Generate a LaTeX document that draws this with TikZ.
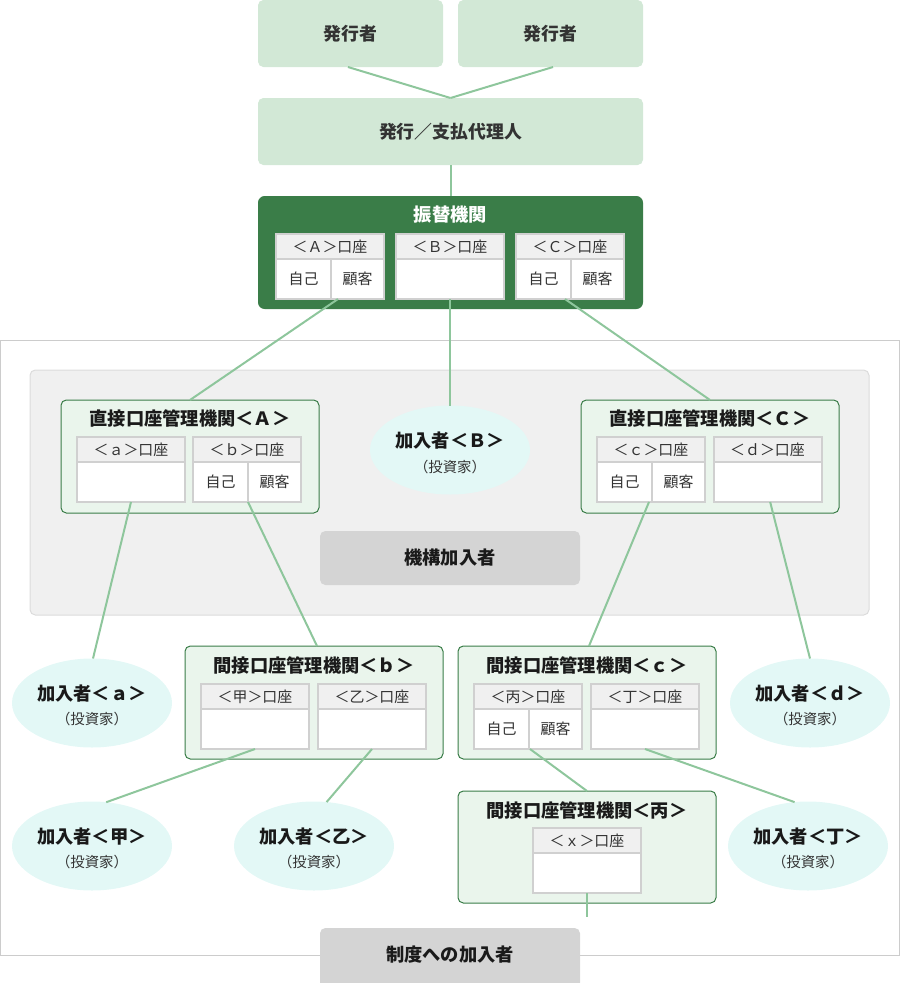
\documentclass[tikz,border=0pt]{standalone}
\usepackage{fontspec}
\setmainfont{Noto Sans CJK JP}
\usetikzlibrary{shapes.geometric,calc}
\definecolor{pale}{HTML}{D2E8D6}
\definecolor{dgreen}{HTML}{3A7D48}
\definecolor{subfill}{HTML}{EAF5EC}
\definecolor{linec}{HTML}{8EC69C}
\definecolor{graybox}{HTML}{D4D4D4}
\definecolor{ellf}{HTML}{E3F8F6}
\definecolor{accb}{HTML}{D0D0D0}
\definecolor{headf}{HTML}{F0F0F0}
\definecolor{outerb}{HTML}{CCCCCC}
\definecolor{areaf}{HTML}{F0F0F0}
\definecolor{areab}{HTML}{DCDCDC}
\definecolor{txt}{HTML}{1A1A1A}
\definecolor{acct}{HTML}{333333}
\newcommand\accbox[4]{%
  \node[acchead, sz={108}{25}] (#1h) at (#2, #3+12.5) {#4};
  \node[accbody, sz={108}{40}] (#1) at (#2, #3+45) {};
}
\newcommand\accsplit[4]{%
  \accbox{#1}{#2}{#3}{#4}
  \node[accbody, sz={55}{40}, acctext] (#1s) at (#2-26.5, #3+45) {自己};
  \node[accbody, sz={53}{40}, acctext] (#1k) at (#2+27.5, #3+45) {顧客};
}
\begin{document}
\begin{tikzpicture}[x=0.75pt,y=-0.75pt,
  sz/.style 2 args={minimum width=#1*0.75pt, minimum height=#2*0.75pt, inner sep=0pt, outer sep=0pt},
  palebox/.style={fill=pale, rounded corners=4pt},
  btext/.style={font=\fontsize{13.7pt}{15pt}\selectfont\bfseries, text=txt},
  ptext/.style={font=\fontsize{13.4pt}{15pt}\selectfont\bfseries, text=acct},
  acctext/.style={font=\fontsize{11.2pt}{13pt}\selectfont, text=acct},
  acchead/.style={draw=accb, line width=1.5pt, fill=headf, acctext},
  accbody/.style={draw=accb, line width=1.5pt, fill=white},
  orgbox/.style={fill=subfill, draw=dgreen, line width=0.75pt, rounded corners=4pt},
  ell/.style={ellipse, fill=ellf, minimum width=160*0.75pt, minimum height=89*0.75pt, inner sep=0pt, outer sep=0pt},
  etext/.style={font=\fontsize{13.7pt}{15pt}\selectfont\bfseries, text=black!90},
  esub/.style={font=\fontsize{10.8pt}{12pt}\selectfont, text=acct},
  gbox/.style={fill=graybox, rounded corners=4pt},
  conn/.style={draw=linec, line width=1.5pt}]
\useasboundingbox (0,0) rectangle (900,983);
% outer frame and inner area
\node[draw=outerb, line width=0.75pt, sz={899}{615}] (frame) at (450,647.5) {};
\node[fill=areaf, draw=areab, line width=0.75pt, rounded corners=4pt, sz={839}{245}] (area) at (449.5,492.5) {};
% top boxes
\node[palebox, sz={185}{67}, ptext] (iss1) at (350.5,33.5) {発行者};
\node[palebox, sz={185}{67}, ptext] (iss2) at (550.5,33.5) {発行者};
\node[palebox, sz={385}{67}, ptext] (agent) at (450.5,131.5) {発行／支払代理人};
% furikae kikan
\node[fill=dgreen, rounded corners=5pt, sz={385}{113}] (fk) at (450.5,252.5) {};
\node[font=\fontsize{13.7pt}{15pt}\selectfont\bfseries, text=white] (fkt) at (450.5,215) {振替機関};
\accsplit{accA}{330}{234}{＜Ａ＞口座}
\accbox{accB}{450}{234}{＜Ｂ＞口座}
\accsplit{accC}{570}{234}{＜Ｃ＞口座}
% direct account institutions
\node[orgbox, sz={258}{113}] (dA) at (190,456.5) {};
\node[btext] (dAt) at (190,418) {直接口座管理機関＜Ａ＞};
\accbox{acca}{131}{437}{＜ａ＞口座}
\accsplit{accb}{247}{437}{＜ｂ＞口座}
\node[orgbox, sz={258}{113}] (dC) at (710,456.5) {};
\node[btext] (dCt) at (710,418) {直接口座管理機関＜Ｃ＞};
\accsplit{accc}{651}{437}{＜ｃ＞口座}
\accbox{accd}{767.5}{437}{＜ｄ＞口座}
% participant B
\node[ell] (kaB) at (450,450) {};
\node[etext] (kaBt) at ($(kaB)+(0,-9)$) {加入者＜Ｂ＞};
\node[esub] (kaBs) at ($(kaB)+(0,17)$) {（投資家）};
% kikou kanyusha
\node[gbox, sz={260}{54}, btext] (kikou) at (450,558) {機構加入者};
% indirect b
\node[orgbox, sz={258}{113}] (ib) at (314,702.5) {};
\node[btext] (ibt) at (314,665) {間接口座管理機関＜ｂ＞};
\accbox{accKo}{255}{684}{＜甲＞口座}
\accbox{accOt}{372}{684}{＜乙＞口座}
% indirect c
\node[orgbox, sz={258}{113}] (ic) at (587,702.5) {};
\node[btext] (ict) at (587,665) {間接口座管理機関＜ｃ＞};
\accsplit{accHei}{528}{684}{＜丙＞口座}
\accbox{accTei}{645}{684}{＜丁＞口座}
% indirect hei
\node[orgbox, sz={258}{112}] (iH) at (587,847) {};
\node[btext] (iHt) at (587,810) {間接口座管理機関＜丙＞};
\accbox{accX}{587}{828}{＜ｘ＞口座}
% participants
\node[ell] (kaa) at (92,703) {};
\node[etext] (kaat) at ($(kaa)+(0,-9)$) {加入者＜ａ＞};
\node[esub] (kaas) at ($(kaa)+(0,16)$) {（投資家）};
\node[ell] (kad) at (810,703) {};
\node[etext] (kadt) at ($(kad)+(0,-9)$) {加入者＜ｄ＞};
\node[esub] (kads) at ($(kad)+(0,16)$) {（投資家）};
\node[ell] (kaKo) at (92,846) {};
\node[etext] (kaKot) at ($(kaKo)+(0,-9)$) {加入者＜甲＞};
\node[esub] (kaKos) at ($(kaKo)+(0,16)$) {（投資家）};
\node[ell] (kaOt) at (314,846) {};
\node[etext] (kaOtt) at ($(kaOt)+(0,-9)$) {加入者＜乙＞};
\node[esub] (kaOts) at ($(kaOt)+(0,16)$) {（投資家）};
\node[ell] (kaTei) at (808,846) {};
\node[etext] (kaTeit) at ($(kaTei)+(0,-9)$) {加入者＜丁＞};
\node[esub] (kaTeis) at ($(kaTei)+(0,16)$) {（投資家）};
% seido
\node[gbox, sz={260}{60}, btext] (seido) at (450,958) {};
\node[btext] (seidot) at (450,955) {制度への加入者};
\coordinate (xend) at (587,917);
% connectors
\draw[conn] ([xshift=-1.9pt]iss1.south) -- (agent.north);
\draw[conn] ([xshift=1.9pt]iss2.south) -- (agent.north);
\draw[conn] (agent.south) -- (fk.north);
\draw[conn] ([xshift=6pt]accA.south) -- (dA.north);
\draw[conn] (accB.south) -- (kaB.north);
\draw[conn] ([xshift=-3.75pt]accC.south) -- (dC.north);
\draw[conn] (acca.south) -- ([xshift=0.75pt]kaa.north);
\draw[conn] ([xshift=0.75pt]accb.south) -- ([xshift=2.25pt]ib.north);
\draw[conn] ([xshift=-1.5pt]accc.south) -- ([xshift=1.5pt]ic.north);
\draw[conn] ([xshift=2pt]accd.south) -- (kad.north);
\draw[conn] (accKo.south) -- (kaKo.72);
\draw[conn] (accOt.south) -- (kaOt.74);
\draw[conn] ([xshift=1.5pt]accHei.south) -- (iH.north);
\draw[conn] (accTei.south) -- (kaTei.107);
\draw[conn] (accX.south) -- (xend);
\end{tikzpicture}
\end{document}
